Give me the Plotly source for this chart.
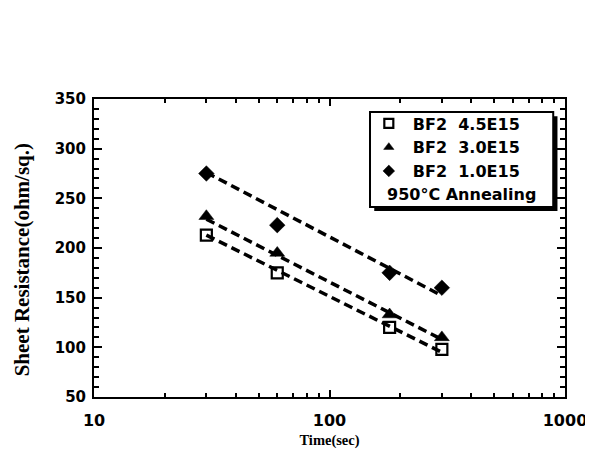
import numpy as np
import plotly.graph_objects as go

# Data
time_s = [30, 60, 180, 300]
rs_45e15 = [213, 175, 120, 98]
rs_30e15 = [232, 195, 133, 110]
rs_10e15 = [275, 223, 175, 160]

# Dashed guide lines (end values)
fit_time = [30, 300]
fit_45e15 = [213, 95]
fit_30e15 = [229, 108]
fit_10e15 = [276, 152]

x_tick_vals = [10, 100, 1000]
x_tick_text = ["10", "100", "1000"]

names = ["BF2\u00a0\u00a04.5E15", "BF2\u00a0\u00a03.0E15", "BF2\u00a0\u00a01.0E15"]
symbols = ["square-open", "triangle-up", "diamond"]
sizes = [11, 13, 12]
lws = [2.2, 0.5, 0.5]

fig = go.Figure()
for fy in [fit_45e15, fit_30e15, fit_10e15]:
    fig.add_trace(go.Scatter(x=fit_time, y=fy, mode="lines",
                             line=dict(color="black", width=3.5, dash="9px,5px"),
                             showlegend=False, hoverinfo="skip"))
for ys, nm, sym, sz, lw in zip([rs_45e15, rs_30e15, rs_10e15], names, symbols, sizes, lws):
    fig.add_trace(go.Scatter(x=time_s, y=ys, mode="markers", name=nm, showlegend=False,
                             marker=dict(symbol=sym, size=sz, color="black",
                                         line=dict(color="black", width=lw))))
# legend entries (smaller symbols, no data drawn)
for nm, sym, lw in zip(names, symbols, lws):
    fig.add_trace(go.Scatter(x=[None], y=[None], mode="markers", name=nm,
                             marker=dict(symbol=sym, size=9, color="black",
                                         line=dict(color="black", width=lw))))

# legend box with drop shadow
lx0, lx1, ly0, ly1 = 0.586, 0.975, 0.638, 0.956
fig.add_shape(type="rect", xref="paper", yref="paper",
              x0=lx0 + 0.009, x1=lx1 + 0.009, y0=ly0 - 0.014, y1=ly1 - 0.014,
              fillcolor="black", line=dict(color="black", width=0), layer="above")
fig.add_shape(type="rect", xref="paper", yref="paper",
              x0=lx0, x1=lx1, y0=ly0, y1=ly1,
              fillcolor="white", line=dict(color="black", width=2), layer="above")
fig.add_annotation(xref="paper", yref="paper", x=0.78, y=0.681,
                   text="950°C Annealing", showarrow=False,
                   xanchor="center", yanchor="middle",
                   font=dict(family="DejaVu Sans", size=16, color="black", weight="bold"))

# y-axis title as rotated text
fig.add_annotation(xref="paper", yref="paper", x=-0.152, y=0.46,
                   text="Sheet Resistance(ohm/sq.)", showarrow=False, textangle=-90,
                   xanchor="center", yanchor="middle",
                   font=dict(family="Liberation Serif", size=21, color="black", weight="bold"))

fig.update_layout(
    width=593, height=457,
    margin=dict(l=86, r=36, t=91, b=68),
    paper_bgcolor="white", plot_bgcolor="white",
    showlegend=True,
    legend=dict(x=0.575, y=0.975, xanchor="left", yanchor="top",
                bgcolor="rgba(0,0,0,0)", borderwidth=0, tracegroupgap=0,
                itemwidth=38,
                font=dict(family="DejaVu Sans", size=16, color="black", weight="bold")),
    xaxis=dict(type="log", range=[1, 3], tickvals=x_tick_vals,
               ticktext=x_tick_text,
               showgrid=False, zeroline=False,
               showline=True, linecolor="black", linewidth=2, mirror="allticks",
               ticks="inside", ticklen=7, tickwidth=2, tickcolor="black",
               ticklabelstandoff=8,
               minor=dict(ticks="inside", ticklen=4, tickwidth=1.5, tickcolor="black",
                          dtick="D1", showgrid=False),
               tickfont=dict(family="DejaVu Sans", size=16, color="black", weight="bold"),
               title=dict(text="Time(sec)", standoff=6,
                          font=dict(family="Liberation Serif", size=14.5, color="black", weight="bold"))),
    yaxis=dict(range=[50, 350], dtick=50,
               showgrid=False, zeroline=False,
               showline=True, linecolor="black", linewidth=2, mirror="allticks",
               ticks="inside", ticklen=8, tickwidth=2, tickcolor="black",
               ticklabelstandoff=3,
               minor=dict(ticks="inside", ticklen=5, tickwidth=1.5, tickcolor="black",
                          dtick=10, showgrid=False),
               tickfont=dict(family="DejaVu Sans", size=15, color="black", weight="bold")),
)

fig.write_html("out.html")
